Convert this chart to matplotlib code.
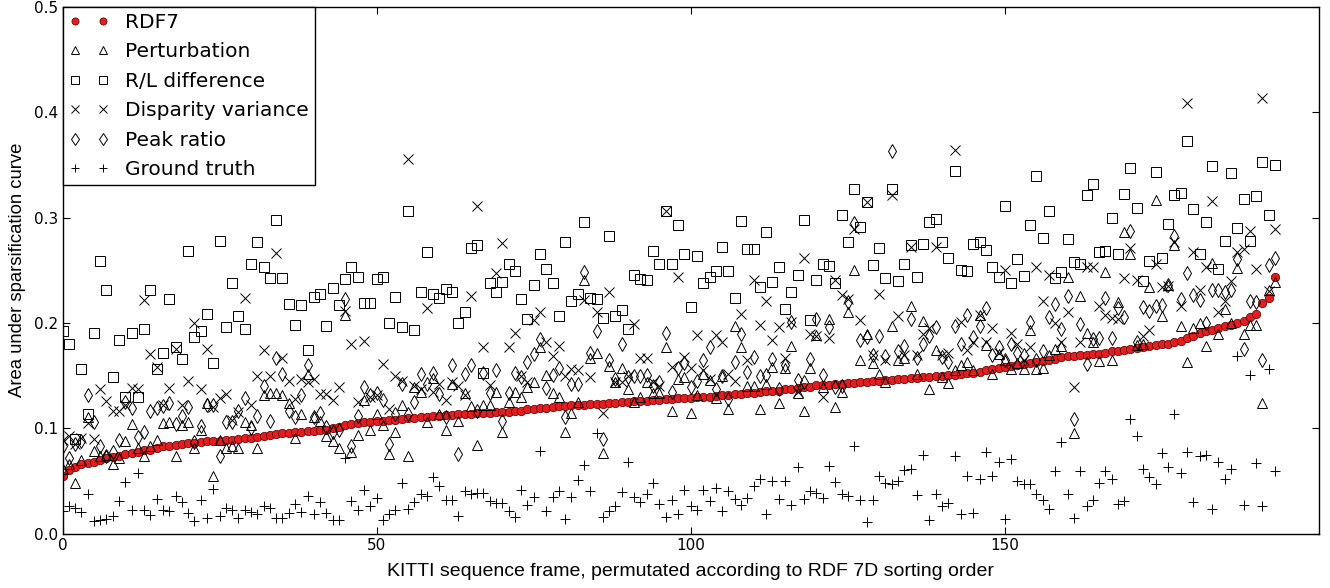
import matplotlib
matplotlib.use("Agg")
import matplotlib.pyplot as plt
import numpy as np

# area under sparsification curve, frames sorted by RDF7
rdf7 = [0.055, 0.061, 0.063, 0.066, 0.067, 0.0685, 0.070, 0.072, 0.073, 0.074,
        0.076, 0.077, 0.078, 0.0795, 0.080, 0.081, 0.083, 0.083, 0.084, 0.085,
        0.086, 0.086, 0.0875, 0.088, 0.088, 0.0885, 0.089, 0.089, 0.090, 0.0905,
        0.091, 0.092, 0.093, 0.094, 0.095, 0.096, 0.096, 0.097, 0.097, 0.098,
        0.098, 0.099, 0.099, 0.100, 0.101, 0.103, 0.104, 0.105, 0.106, 0.106,
        0.107, 0.107, 0.108, 0.108, 0.109, 0.110, 0.110, 0.111, 0.111, 0.112,
        0.112, 0.113, 0.113, 0.114, 0.114, 0.114, 0.115, 0.115, 0.115, 0.116,
        0.116, 0.116, 0.117, 0.117, 0.118, 0.118, 0.119, 0.119, 0.120, 0.121,
        0.121, 0.122, 0.122, 0.122, 0.123, 0.123, 0.123, 0.124, 0.124, 0.125,
        0.125, 0.126, 0.126, 0.126, 0.127, 0.127, 0.128, 0.128, 0.129, 0.129,
        0.129, 0.130, 0.130, 0.130, 0.131, 0.132, 0.132, 0.133, 0.133, 0.134,
        0.134, 0.135, 0.136, 0.136, 0.136, 0.137, 0.1375, 0.138, 0.139, 0.139,
        0.141, 0.141, 0.141, 0.142, 0.142, 0.143, 0.143, 0.144, 0.144, 0.145,
        0.145, 0.146, 0.146, 0.147, 0.147, 0.148, 0.148, 0.149, 0.149, 0.150,
        0.150, 0.151, 0.151, 0.152, 0.153, 0.153, 0.154, 0.155, 0.156, 0.157,
        0.158, 0.159, 0.160, 0.161, 0.162, 0.163, 0.164, 0.165, 0.166, 0.168,
        0.169, 0.169, 0.170, 0.170, 0.171, 0.171, 0.172, 0.173, 0.173, 0.174,
        0.175, 0.176, 0.1776, 0.178, 0.179, 0.180, 0.180, 0.182, 0.183, 0.186,
        0.188, 0.1906, 0.192, 0.193, 0.195, 0.197, 0.198, 0.200, 0.2015, 0.206,
        0.209, 0.219, 0.224, 0.244]

perturbation = [0.062, 0.066, 0.048, 0.070, 0.111, 0.079, 0.074, 0.075, 0.066, 0.072,
                0.088, 0.104, 0.081, 0.074, 0.083, 0.089, 0.105, 0.106, 0.074, 0.103,
                0.106, 0.081, 0.099, 0.124, 0.055, 0.089, 0.081, 0.083, 0.081, 0.106,
                0.103, 0.081, 0.132, 0.134, 0.134, 0.132, 0.124, 0.091, 0.114, 0.152,
                0.111, 0.107, 0.093, 0.088, 0.081, 0.208, 0.078, 0.094, 0.127, 0.099,
                0.114, 0.103, 0.076, 0.097, 0.122, 0.074, 0.139, 0.135, 0.106, 0.148,
                0.114, 0.099, 0.142, 0.107, 0.134, 0.121, 0.084, 0.122, 0.122, 0.135,
                0.097, 0.125, 0.135, 0.130, 0.139, 0.144, 0.177, 0.151, 0.134, 0.130,
                0.097, 0.115, 0.125, 0.241, 0.167, 0.172, 0.077, 0.159, 0.144, 0.157,
                0.137, 0.125, 0.130, 0.144, 0.134, 0.134, 0.177, 0.117, 0.147, 0.149,
                0.115, 0.132, 0.152, 0.146, 0.129, 0.150, 0.118, 0.197, 0.177, 0.140,
                0.140, 0.118, 0.142, 0.158, 0.124, 0.157, 0.178, 0.134, 0.117, 0.157,
                0.189, 0.139, 0.204, 0.120, 0.135, 0.210, 0.250, 0.165, 0.190, 0.162,
                0.152, 0.144, 0.197, 0.165, 0.167, 0.216, 0.152, 0.202, 0.137, 0.174,
                0.149, 0.143, 0.155, 0.160, 0.163, 0.155, 0.208, 0.179, 0.152, 0.171,
                0.165, 0.156, 0.162, 0.156, 0.193, 0.156, 0.157, 0.170, 0.175, 0.178,
                0.244, 0.096, 0.226, 0.191, 0.182, 0.164, 0.248, 0.165, 0.220, 0.286,
                0.265, 0.179, 0.180, 0.234, 0.317, 0.207, 0.236, 0.274, 0.197, 0.163,
                0.195, 0.200, 0.178, 0.257, 0.190, 0.213, 0.200, 0.252, 0.190, 0.198,
                0.198, 0.124, 0.231, 0.239]

rl_difference = [0.192, 0.180, 0.090, 0.156, 0.114, 0.191, 0.259, 0.231, 0.149, 0.184,
                 0.130, 0.191, 0.130, 0.194, 0.231, 0.156, 0.172, 0.223, 0.177, 0.166,
                 0.268, 0.187, 0.192, 0.209, 0.162, 0.278, 0.196, 0.238, 0.207, 0.194,
                 0.256, 0.277, 0.253, 0.243, 0.298, 0.243, 0.218, 0.198, 0.217, 0.174,
                 0.225, 0.228, 0.197, 0.233, 0.217, 0.242, 0.253, 0.244, 0.219, 0.219,
                 0.242, 0.244, 0.200, 0.225, 0.196, 0.306, 0.193, 0.229, 0.267, 0.228,
                 0.224, 0.232, 0.229, 0.200, 0.210, 0.271, 0.274, 0.153, 0.238, 0.229,
                 0.239, 0.256, 0.249, 0.223, 0.204, 0.236, 0.265, 0.251, 0.238, 0.207,
                 0.277, 0.221, 0.228, 0.296, 0.224, 0.223, 0.205, 0.283, 0.207, 0.212,
                 0.194, 0.246, 0.242, 0.241, 0.268, 0.256, 0.306, 0.256, 0.293, 0.265,
                 0.215, 0.264, 0.238, 0.244, 0.249, 0.272, 0.249, 0.224, 0.297, 0.270,
                 0.270, 0.234, 0.286, 0.239, 0.253, 0.213, 0.229, 0.246, 0.298, 0.203,
                 0.241, 0.256, 0.254, 0.238, 0.302, 0.277, 0.327, 0.291, 0.315, 0.255,
                 0.271, 0.243, 0.327, 0.240, 0.256, 0.274, 0.244, 0.275, 0.296, 0.299,
                 0.277, 0.262, 0.344, 0.250, 0.249, 0.275, 0.277, 0.269, 0.253, 0.244,
                 0.311, 0.238, 0.261, 0.245, 0.293, 0.339, 0.281, 0.306, 0.243, 0.248,
                 0.280, 0.258, 0.256, 0.321, 0.332, 0.267, 0.268, 0.300, 0.265, 0.322,
                 0.347, 0.309, 0.240, 0.259, 0.343, 0.262, 0.294, 0.321, 0.323, 0.373,
                 0.308, 0.265, 0.296, 0.349, 0.251, 0.278, 0.342, 0.290, 0.318, 0.278,
                 0.320, 0.353, 0.302, 0.350]

disparity_var = [0.089, 0.093, 0.085, 0.091, 0.105, 0.090, 0.137, 0.126, 0.117, 0.117,
                 0.122, 0.138, 0.137, 0.222, 0.171, 0.158, 0.122, 0.138, 0.175, 0.122,
                 0.145, 0.200, 0.137, 0.175, 0.120, 0.129, 0.133, 0.108, 0.116, 0.224,
                 0.122, 0.150, 0.174, 0.150, 0.266, 0.167, 0.145, 0.128, 0.147, 0.144,
                 0.147, 0.133, 0.133, 0.127, 0.139, 0.211, 0.180, 0.125, 0.183, 0.130,
                 0.132, 0.161, 0.118, 0.150, 0.145, 0.356, 0.140, 0.137, 0.214, 0.135,
                 0.142, 0.127, 0.144, 0.140, 0.132, 0.226, 0.311, 0.177, 0.141, 0.247,
                 0.276, 0.177, 0.191, 0.150, 0.144, 0.203, 0.210, 0.182, 0.169, 0.178,
                 0.150, 0.156, 0.155, 0.222, 0.149, 0.210, 0.115, 0.229, 0.144, 0.144,
                 0.150, 0.199, 0.167, 0.167, 0.144, 0.140, 0.306, 0.158, 0.244, 0.168,
                 0.157, 0.189, 0.155, 0.147, 0.189, 0.182, 0.152, 0.145, 0.209, 0.165,
                 0.241, 0.198, 0.221, 0.184, 0.196, 0.167, 0.201, 0.135, 0.262, 0.190,
                 0.188, 0.130, 0.186, 0.241, 0.227, 0.223, 0.289, 0.203, 0.315, 0.170,
                 0.228, 0.165, 0.321, 0.207, 0.170, 0.272, 0.170, 0.190, 0.195, 0.272,
                 0.170, 0.172, 0.364, 0.201, 0.174, 0.182, 0.208, 0.182, 0.195, 0.172,
                 0.250, 0.191, 0.180, 0.165, 0.177, 0.253, 0.221, 0.246, 0.200, 0.182,
                 0.210, 0.139, 0.182, 0.253, 0.253, 0.216, 0.208, 0.205, 0.204, 0.243,
                 0.271, 0.241, 0.188, 0.193, 0.256, 0.234, 0.235, 0.277, 0.216, 0.409,
                 0.267, 0.231, 0.253, 0.316, 0.210, 0.221, 0.240, 0.267, 0.270, 0.287,
                 0.251, 0.413, 0.230, 0.289]

peak_ratio = [0.083, 0.072, 0.085, 0.088, 0.132, 0.106, 0.083, 0.074, 0.078, 0.089,
              0.125, 0.119, 0.092, 0.097, 0.117, 0.119, 0.121, 0.124, 0.104, 0.112,
              0.120, 0.087, 0.102, 0.122, 0.122, 0.074, 0.106, 0.106, 0.117, 0.129,
              0.100, 0.112, 0.140, 0.107, 0.167, 0.152, 0.117, 0.111, 0.132, 0.160,
              0.111, 0.115, 0.101, 0.097, 0.099, 0.223, 0.083, 0.112, 0.139, 0.132,
              0.134, 0.127, 0.085, 0.114, 0.142, 0.114, 0.125, 0.152, 0.142, 0.153,
              0.133, 0.111, 0.160, 0.076, 0.152, 0.160, 0.117, 0.153, 0.134, 0.155,
              0.107, 0.134, 0.153, 0.149, 0.163, 0.171, 0.185, 0.138, 0.151, 0.157,
              0.111, 0.142, 0.142, 0.248, 0.172, 0.192, 0.090, 0.165, 0.147, 0.180,
              0.149, 0.150, 0.150, 0.151, 0.140, 0.144, 0.191, 0.135, 0.157, 0.162,
              0.139, 0.145, 0.165, 0.177, 0.137, 0.150, 0.128, 0.163, 0.190, 0.154,
              0.168, 0.150, 0.151, 0.166, 0.137, 0.160, 0.201, 0.146, 0.144, 0.166,
              0.204, 0.151, 0.196, 0.139, 0.140, 0.220, 0.295, 0.184, 0.187, 0.170,
              0.188, 0.169, 0.363, 0.173, 0.178, 0.204, 0.167, 0.180, 0.188, 0.196,
              0.168, 0.163, 0.197, 0.180, 0.208, 0.187, 0.197, 0.214, 0.170, 0.177,
              0.165, 0.180, 0.172, 0.170, 0.201, 0.165, 0.173, 0.206, 0.218, 0.194,
              0.226, 0.109, 0.199, 0.161, 0.185, 0.186, 0.224, 0.186, 0.214, 0.206,
              0.287, 0.182, 0.215, 0.211, 0.216, 0.217, 0.236, 0.283, 0.223, 0.247,
              0.227, 0.222, 0.200, 0.231, 0.231, 0.229, 0.231, 0.261, 0.175, 0.221,
              0.220, 0.165, 0.255, 0.262]

ground_truth = [0.022, 0.026, 0.025, 0.021, 0.038, 0.012, 0.013, 0.014, 0.017, 0.031,
                0.049, 0.023, 0.058, 0.023, 0.018, 0.033, 0.023, 0.022, 0.036, 0.030,
                0.020, 0.012, 0.032, 0.015, 0.043, 0.017, 0.025, 0.023, 0.015, 0.023,
                0.021, 0.019, 0.026, 0.025, 0.015, 0.015, 0.020, 0.028, 0.021, 0.036,
                0.019, 0.030, 0.020, 0.013, 0.013, 0.072, 0.031, 0.023, 0.042, 0.026,
                0.034, 0.013, 0.019, 0.023, 0.048, 0.024, 0.030, 0.038, 0.036, 0.054,
                0.045, 0.032, 0.032, 0.017, 0.041, 0.038, 0.039, 0.039, 0.031, 0.029,
                0.029, 0.022, 0.016, 0.042, 0.027, 0.035, 0.079, 0.022, 0.035, 0.041,
                0.014, 0.035, 0.051, 0.065, 0.041, 0.096, 0.016, 0.022, 0.026, 0.040,
                0.068, 0.035, 0.030, 0.038, 0.048, 0.028, 0.016, 0.032, 0.019, 0.042,
                0.026, 0.023, 0.042, 0.031, 0.044, 0.022, 0.041, 0.033, 0.027, 0.034,
                0.045, 0.052, 0.019, 0.050, 0.033, 0.050, 0.027, 0.063, 0.033, 0.041,
                0.039, 0.034, 0.064, 0.049, 0.038, 0.036, 0.083, 0.032, 0.011, 0.032,
                0.055, 0.048, 0.047, 0.050, 0.061, 0.062, 0.037, 0.075, 0.013, 0.038,
                0.026, 0.029, 0.074, 0.019, 0.055, 0.020, 0.052, 0.078, 0.055, 0.068,
                0.014, 0.071, 0.050, 0.047, 0.047, 0.038, 0.032, 0.024, 0.060, 0.087,
                0.038, 0.015, 0.060, 0.026, 0.032, 0.048, 0.060, 0.052, 0.028, 0.031,
                0.109, 0.093, 0.062, 0.054, 0.047, 0.077, 0.063, 0.114, 0.058, 0.078,
                0.030, 0.074, 0.075, 0.024, 0.068, 0.052, 0.062, 0.169, 0.027, 0.151,
                0.067, 0.026, 0.156, 0.060]

frames = np.arange(len(rdf7))

fig = plt.figure(figsize=(13.3, 5.88), dpi=100)
ax = fig.add_axes([0.047, 0.092, 0.9447, 0.8966])

ms = 6.5
ax.plot(frames, rdf7, 'o', ms=6.0, mfc='#e41e20', mec='#6b0a0a', mew=0.6, label='RDF7')
ax.plot(frames, perturbation, '^', ms=ms, mfc='none', mec='k', mew=0.7, label='Perturbation')
ax.plot(frames, rl_difference, 's', ms=ms, mfc='none', mec='k', mew=0.7, label='R/L difference')
ax.plot(frames, disparity_var, 'x', ms=ms, mec='k', mew=0.7, label='Disparity variance')
ax.plot(frames, peak_ratio, 'd', ms=ms + 1, mfc='none', mec='k', mew=0.7, label='Peak ratio')
ax.plot(frames, ground_truth, '+', ms=ms, mec='k', mew=0.7, label='Ground truth')

ax.set_xlim(0, 200)
ax.set_ylim(0, 0.5)
ax.set_xticks([0, 50, 100, 150])
ax.set_yticks([0.0, 0.1, 0.2, 0.3, 0.4, 0.5])
ax.set_yticklabels(['0.0', '0.1', '0.2', '0.3', '0.4', '0.5'])
ax.tick_params(direction='in', top=True, right=True, length=5, width=0.8,
               labelsize=11, pad=3)
for s in ax.spines.values():
    s.set_linewidth(1.0)

ax.set_xlabel('KITTI sequence frame, permutated according to RDF 7D sorting order',
              family='Liberation Sans', fontsize=14, labelpad=7)
ax.set_ylabel('Area under sparsification curve', family='Liberation Sans',
              fontsize=13.3, labelpad=6)

leg = ax.legend(loc='upper left', numpoints=2, fontsize=14.5, markerscale=0.85,
                borderaxespad=0, fancybox=False, framealpha=1, edgecolor='k',
                handletextpad=0.8, labelspacing=0.52, borderpad=0.3)
leg.get_frame().set_linewidth(1.0)

fig.savefig('out.png', dpi=100)
